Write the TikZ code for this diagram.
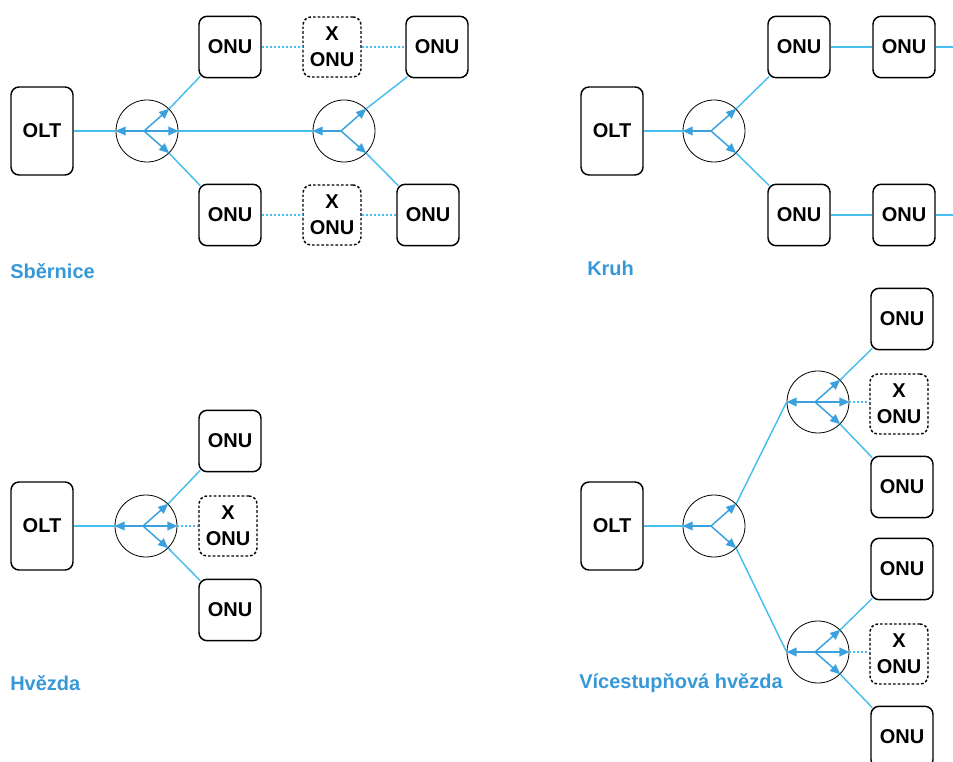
\documentclass[tikz,border=0pt]{standalone}
\usepackage{fontspec}
\setmainfont{Liberation Sans}
\usetikzlibrary{arrows.meta}
\definecolor{linka}{RGB}{72,190,236}
\definecolor{sipka}{RGB}{58,160,222}
\definecolor{popis}{RGB}{55,152,216}

\begin{document}
\begin{tikzpicture}[x=0.75pt,y=-0.75pt,
	font=\fontsize{15}{19.5}\selectfont\bfseries,
	box/.style={draw,rounded corners=6pt,line width=1.1pt,align=center,inner sep=0pt},
	onu/.style={box,minimum width=46.5pt,minimum height=46pt},
	olt/.style={box,minimum width=46.5pt,minimum height=66pt},
	xonu/.style={box,dash pattern=on 2pt off 1.5pt,minimum width=43.5pt,minimum height=45pt},
	spl/.style={draw,circle,line width=0.6pt,minimum size=46.5pt,inner sep=0pt},
	fiber/.style={linka,line width=1.1pt},
	tap/.style={fiber,shorten >=-2pt},
	dead/.style={linka,line width=1.1pt,dash pattern=on 1.5pt off 1.5pt},
	arr/.style={sipka,line width=1.1pt,-{Triangle[length=7.5pt,width=6.5pt]}},
	lbl/.style={popis,anchor=west,inner sep=0pt}]
	\useasboundingbox (0,0) rectangle (953,762);

	% Sbernice
	\node[olt] (A) at (42,131) {OLT};
	\node[spl] (S1) at (147,131) {};
	\node[spl] (S2) at (344,131) {};
	\coordinate (s1) at (144,131);
	\coordinate (s2) at (341,131);
	\node[onu] (B) at (230,47) {ONU};
	\node[xonu] (C) at (332,47) {X\\ONU};
	\node[onu] (D) at (437,47) {ONU};
	\node[onu] (E) at (230,215) {ONU};
	\node[xonu] (F) at (332,215) {X\\ONU};
	\node[onu] (G) at (428,215) {ONU};
	\node[lbl] (L1) at (10,271) {Sběrnice};

	\draw[fiber] (A) -- (S1);
	\draw[fiber] (S1.east) -- (S2.west);
	\draw[tap] (S1.45) -- (B.south west);
	\draw[tap] (S1.-45) -- (E.north west);
	\draw[tap] (S2.45) -- (D.south west);
	\draw[tap] (S2.-45) -- (G.north west);
	\draw[dead] (B) -- (C);
	\draw[dead] (C) -- (D);
	\draw[dead] (E) -- (F);
	\draw[dead] (F) -- (G);
	\draw[arr] (s1) -- (S1.west);
	\draw[arr] (s1) -- (S1.east);
	\draw[arr] (s1) -- (S1.45);
	\draw[arr] (s1) -- (S1.-45);
	\draw[arr] (s2) -- (S2.west);
	\draw[arr] (s2) -- (S2.45);
	\draw[arr] (s2) -- (S2.-45);

	% Kruh
	\node[olt] (H) at (612,131) {OLT};
	\node[spl] (S3) at (714,131) {};
	\coordinate (s3) at (711,131);
	\node[onu] (I) at (799,47) {ONU};
	\node[onu] (J) at (904,47) {ONU};
	\node[onu] (K) at (799,215) {ONU};
	\node[onu] (M) at (904,215) {ONU};
	\coordinate (I2) at (965,47);
	\coordinate (K2) at (965,215);
	\node[lbl] (L2) at (587,268) {Kruh};

	\draw[fiber] (H) -- (S3);
	\draw[tap] (S3.45) -- (I.south west);
	\draw[tap] (S3.-45) -- (K.north west);
	\draw[fiber] (I) -- (J);
	\draw[fiber] (J) -- (I2);
	\draw[fiber] (K) -- (M);
	\draw[fiber] (M) -- (K2);
	\draw[arr] (s3) -- (S3.west);
	\draw[arr] (s3) -- (S3.45);
	\draw[arr] (s3) -- (S3.-45);

	% Hvezda
	\node[olt] (N) at (42,526) {OLT};
	\node[spl] (S4) at (146,526) {};
	\coordinate (s4) at (143,526);
	\node[onu] (O) at (230,441) {ONU};
	\node[xonu] (P) at (228,526) {X\\ONU};
	\node[onu] (Q) at (230,610) {ONU};
	\node[lbl] (L3) at (10,683) {Hvězda};

	\draw[fiber] (N) -- (S4);
	\draw[tap] (S4.45) -- (O.south west);
	\draw[tap] (S4.-45) -- (Q.north west);
	\draw[dead] (S4.east) -- (P.west);
	\draw[arr] (s4) -- (S4.west);
	\draw[arr] (s4) -- (S4.east);
	\draw[arr] (s4) -- (S4.45);
	\draw[arr] (s4) -- (S4.-45);

	% Vicestupnova hvezda
	\node[olt] (R) at (612,526) {OLT};
	\node[spl] (S5) at (714,526) {};
	\node[spl] (S6) at (818,402) {};
	\node[spl] (S7) at (818,652) {};
	\coordinate (s5) at (711,526);
	\coordinate (s6) at (815,402);
	\coordinate (s7) at (815,652);
	\node[onu] (T) at (902,319) {ONU};
	\node[xonu] (U) at (899,404) {X\\ONU};
	\node[onu] (V) at (902,487) {ONU};
	\node[onu] (W) at (902,569) {ONU};
	\node[xonu] (X) at (899,654) {X\\ONU};
	\node[onu] (Y) at (902,737) {ONU};
	\node[lbl] (L4) at (579,683) {Vícestupňová hvězda};

	\draw[fiber] (R) -- (S5);
	\draw[fiber] (S5.45) -- (S6.west);
	\draw[fiber] (S5.-45) -- (S7.west);
	\draw[tap] (S6.45) -- (T.south west);
	\draw[tap] (S6.-45) -- (V.north west);
	\draw[dead] (S6.east) -- (S6.east -| U.west);
	\draw[tap] (S7.45) -- (W.south west);
	\draw[tap] (S7.-45) -- (Y.north west);
	\draw[dead] (S7.east) -- (S7.east -| X.west);
	\draw[arr] (s5) -- (S5.west);
	\draw[arr] (s5) -- (S5.45);
	\draw[arr] (s5) -- (S5.-45);
	\foreach \s/\c in {s6/S6,s7/S7} {
		\draw[arr] (\s) -- (\c.west);
		\draw[arr] (\s) -- (\c.east);
		\draw[arr] (\s) -- (\c.45);
		\draw[arr] (\s) -- (\c.-45);
	}
\end{tikzpicture}
\end{document}
